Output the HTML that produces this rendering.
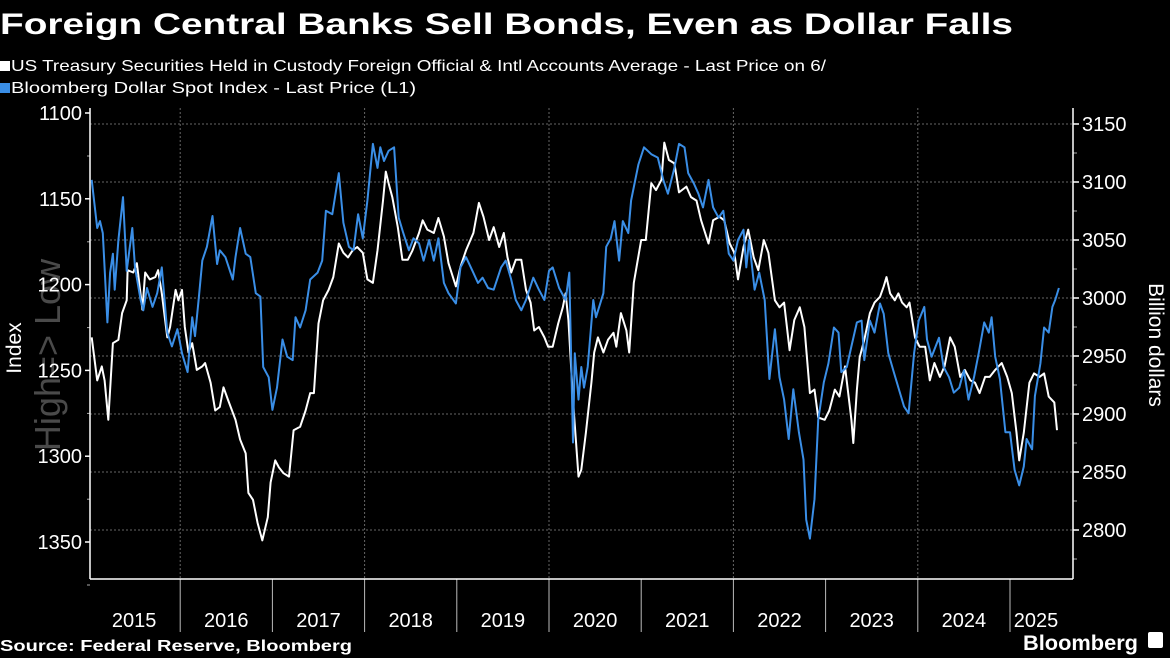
<!DOCTYPE html>
<html><head><meta charset="utf-8"><style>
html,body{margin:0;padding:0;background:#000;width:1170px;height:658px;overflow:hidden}
svg{display:block;font-family:"Liberation Sans",sans-serif}
</style></head><body>
<svg id="chart" width="1170" height="658" viewBox="0 0 1170 658">
<rect x="0" y="0" width="1170" height="658" fill="#000"/>
<text x="0" y="34" fill="#fff" font-size="30" font-weight="bold" textLength="1013" lengthAdjust="spacingAndGlyphs">Foreign Central Banks Sell Bonds, Even as Dollar Falls</text>
<g>
<g><rect x="0" y="61" width="10" height="10" fill="#fff"/><text x="11" y="71" fill="#fff" font-size="16" textLength="815" lengthAdjust="spacingAndGlyphs">US Treasury Securities Held in Custody Foreign Official &amp; Intl Accounts Average - Last Price on 6/</text></g>
<g><rect x="0" y="83" width="10" height="10" fill="#3a8ee6"/><text x="11" y="93" fill="#fff" font-size="16" textLength="405" lengthAdjust="spacingAndGlyphs">Bloomberg Dollar Spot Index - Last Price (L1)</text></g>
</g>
<text transform="translate(60,355) rotate(-90)" text-anchor="middle" fill="#4a4a4a" font-size="36">High=&gt; Low</text>
<text transform="translate(21,348) rotate(-90)" text-anchor="middle" fill="#fff" font-size="21">Index</text>
<text transform="translate(1149,345) rotate(90)" text-anchor="middle" fill="#fff" font-size="21">Billion dollars</text>
<g id="grid"></g>
<g id="axes"></g>
<g id="series"></g>
<text x="0" y="651" fill="#fff" font-size="16" font-weight="bold" textLength="352" lengthAdjust="spacingAndGlyphs">Source: Federal Reserve, Bloomberg</text>
<g>
<text x="1023" y="650" fill="#fff" font-size="21" font-weight="bold" textLength="115" lengthAdjust="spacingAndGlyphs">Bloomberg</text>
<rect x="1148" y="632" width="15" height="16" rx="2" fill="#fff"/>
</g>
</svg>
<script>
const leftTicks=[1100,1150,1200,1250,1300,1350];
const rightTicks=[3150,3100,3050,3000,2950,2900,2850,2800];
const yearLabels=["2015","2016","2017","2018","2019","2020","2021","2022","2023","2024","2025"];
const blueDates=[2015.04,2015.10,2015.13,2015.16,2015.21,2015.24,2015.27,2015.29,2015.33,2015.38,2015.42,2015.48,2015.51,2015.57,2015.60,2015.64,2015.70,2015.75,2015.80,2015.86,2015.91,2015.97,2016.02,2016.08,2016.13,2016.16,2016.20,2016.24,2016.29,2016.35,2016.40,2016.43,2016.49,2016.57,2016.60,2016.65,2016.71,2016.76,2016.82,2016.87,2016.90,2016.96,2017.00,2017.05,2017.11,2017.16,2017.22,2017.25,2017.30,2017.36,2017.41,2017.49,2017.54,2017.58,2017.65,2017.72,2017.77,2017.83,2017.88,2017.93,2017.98,2018.03,2018.09,2018.14,2018.17,2018.21,2018.26,2018.32,2018.37,2018.42,2018.48,2018.53,2018.59,2018.64,2018.70,2018.75,2018.80,2018.86,2018.91,2018.99,2019.04,2019.10,2019.17,2019.23,2019.28,2019.34,2019.40,2019.48,2019.53,2019.59,2019.64,2019.70,2019.75,2019.83,2019.89,2019.95,2020.00,2020.04,2020.11,2020.18,2020.22,2020.26,2020.28,2020.32,2020.35,2020.38,2020.42,2020.48,2020.51,2020.59,2020.62,2020.67,2020.71,2020.76,2020.80,2020.86,2020.89,2020.97,2021.03,2021.11,2021.18,2021.24,2021.29,2021.36,2021.41,2021.47,2021.51,2021.57,2021.62,2021.67,2021.73,2021.78,2021.84,2021.89,2021.95,2022.00,2022.05,2022.11,2022.14,2022.17,2022.23,2022.28,2022.34,2022.39,2022.45,2022.50,2022.55,2022.60,2022.65,2022.71,2022.76,2022.79,2022.83,2022.88,2022.92,2022.98,2023.03,2023.09,2023.14,2023.17,2023.23,2023.28,2023.34,2023.39,2023.42,2023.48,2023.53,2023.59,2023.63,2023.68,2023.74,2023.79,2023.85,2023.90,2023.96,2024.01,2024.07,2024.10,2024.15,2024.23,2024.28,2024.34,2024.39,2024.45,2024.50,2024.55,2024.61,2024.66,2024.72,2024.77,2024.80,2024.84,2024.89,2024.95,2025.00,2025.05,2025.10,2025.15,2025.18,2025.24,2025.27,2025.33,2025.37,2025.42,2025.46,2025.49,2025.53];
const blueValues=[1139,1167,1163,1170,1222,1193,1182,1203,1174,1149,1192,1167,1190,1209,1215,1202,1213,1205,1190,1228,1236,1226,1240,1251,1219,1230,1209,1186,1178,1160,1188,1180,1184,1197,1184,1167,1182,1184,1205,1207,1248,1254,1273,1260,1232,1242,1244,1219,1225,1215,1197,1193,1186,1157,1159,1135,1164,1178,1180,1159,1173,1151,1118,1132,1120,1128,1122,1120,1161,1170,1180,1173,1176,1186,1174,1186,1173,1199,1205,1211,1190,1184,1192,1199,1196,1202,1203,1190,1186,1197,1209,1215,1209,1196,1203,1209,1192,1190,1202,1209,1193,1292,1240,1267,1248,1260,1248,1209,1219,1205,1178,1173,1163,1186,1163,1170,1151,1130,1120,1124,1126,1139,1147,1132,1118,1120,1135,1141,1147,1155,1139,1155,1161,1157,1182,1186,1174,1168,1190,1174,1203,1193,1209,1255,1226,1254,1267,1290,1261,1286,1302,1337,1348,1325,1279,1257,1246,1225,1228,1251,1248,1236,1222,1221,1244,1221,1228,1211,1217,1240,1251,1260,1271,1275,1240,1221,1213,1232,1242,1231,1248,1254,1263,1260,1250,1267,1254,1240,1222,1228,1219,1242,1255,1286,1286,1308,1317,1306,1290,1296,1265,1246,1225,1228,1213,1209,1202];
const whiteDates=[2015.04,2015.10,2015.15,2015.18,2015.22,2015.27,2015.33,2015.37,2015.42,2015.43,2015.49,2015.53,2015.59,2015.62,2015.67,2015.73,2015.76,2015.80,2015.86,2015.89,2015.95,2015.98,2016.02,2016.05,2016.09,2016.13,2016.18,2016.24,2016.27,2016.33,2016.38,2016.43,2016.47,2016.52,2016.60,2016.65,2016.71,2016.74,2016.79,2016.84,2016.89,2016.95,2016.98,2017.03,2017.07,2017.12,2017.18,2017.23,2017.30,2017.36,2017.41,2017.45,2017.50,2017.55,2017.61,2017.66,2017.72,2017.77,2017.82,2017.87,2017.92,2017.98,2018.03,2018.09,2018.14,2018.20,2018.23,2018.26,2018.30,2018.36,2018.41,2018.47,2018.52,2018.59,2018.63,2018.68,2018.75,2018.80,2018.86,2018.91,2018.99,2019.04,2019.10,2019.18,2019.24,2019.29,2019.35,2019.40,2019.46,2019.51,2019.55,2019.59,2019.64,2019.70,2019.75,2019.80,2019.84,2019.89,2019.95,2019.99,2020.04,2020.10,2020.15,2020.18,2020.21,2020.26,2020.32,2020.35,2020.40,2020.46,2020.49,2020.53,2020.59,2020.64,2020.70,2020.73,2020.78,2020.84,2020.87,2020.92,2021.00,2021.05,2021.11,2021.16,2021.22,2021.25,2021.30,2021.36,2021.41,2021.49,2021.54,2021.60,2021.65,2021.73,2021.78,2021.85,2021.90,2021.96,2022.01,2022.05,2022.11,2022.16,2022.22,2022.27,2022.33,2022.38,2022.45,2022.50,2022.55,2022.61,2022.66,2022.72,2022.77,2022.83,2022.88,2022.92,2022.99,2023.04,2023.10,2023.15,2023.21,2023.28,2023.30,2023.34,2023.37,2023.42,2023.48,2023.53,2023.59,2023.63,2023.66,2023.70,2023.75,2023.79,2023.83,2023.88,2023.91,2023.97,2024.02,2024.08,2024.13,2024.18,2024.24,2024.29,2024.35,2024.40,2024.46,2024.51,2024.57,2024.62,2024.67,2024.73,2024.78,2024.84,2024.91,2024.97,2025.02,2025.07,2025.10,2025.15,2025.21,2025.26,2025.32,2025.37,2025.42,2025.48,2025.51];
const whiteValues=[2966,2929,2941,2929,2895,2961,2964,2987,2998,3024,3022,3030,2990,3022,3016,3018,3024,3004,2966,2975,3007,2998,3007,2975,2953,2961,2938,2941,2944,2927,2903,2906,2923,2912,2895,2878,2866,2832,2826,2806,2791,2811,2841,2860,2854,2849,2846,2886,2889,2903,2918,2918,2978,2998,3007,3018,3047,3039,3035,3041,3044,3039,3016,3013,3041,3084,3109,3099,3087,3061,3033,3033,3041,3056,3067,3059,3056,3069,3053,3030,3010,3027,3041,3056,3082,3070,3050,3061,3044,3056,3035,3022,3033,3033,3007,2996,2972,2975,2966,2958,2958,2978,2992,3004,2981,2912,2846,2852,2884,2927,2953,2966,2953,2964,2970,2958,2987,2972,2953,3013,3050,3050,3099,3093,3102,3134,3119,3116,3091,3096,3087,3084,3067,3047,3067,3070,3067,3047,3039,3016,3044,3059,3035,3024,3050,3039,2998,2992,2996,2955,2981,2992,2975,2918,2921,2897,2895,2903,2921,2915,2941,2895,2875,2921,2949,2964,2987,2996,3001,3010,3018,3004,2998,3004,2996,2992,2996,2966,2958,2958,2929,2944,2932,2941,2966,2958,2932,2938,2929,2927,2918,2932,2932,2938,2944,2932,2918,2884,2860,2884,2927,2935,2932,2935,2915,2910,2886];

const NS="http://www.w3.org/2000/svg";
const PL=90,PR=1073,PT=108,PB=579;
const X0=88,PXY=92.2;
function xScale(d){return X0+(d-2015)*PXY;}
function yLeft(v){return 113+(v-1100)*1.716;}
function yRight(v){return 124+(3150-v)*1.16;}
function mk(tag,attrs,parent){const e=document.createElementNS(NS,tag);for(const k in attrs)e.setAttribute(k,attrs[k]);parent.appendChild(e);return e;}
const grid=document.getElementById('grid'),axes=document.getElementById('axes'),series=document.getElementById('series');

rightTicks.forEach(v=>{
  const y=yRight(v);
  const g=mk('line',{x1:PL,x2:PR,y1:y,y2:y,stroke:'#666','stroke-width':1,'stroke-dasharray':'2,2'},grid);
  
  
  const t=mk('line',{x1:PR,x2:PR+6,y1:y,y2:y,stroke:'#fff','stroke-width':1.5},axes);
  
  
  const m=mk('line',{x1:PR,x2:PR+4,y1:y+29,y2:y+29,stroke:'#aaa','stroke-width':1},axes);
  
  
  const l=mk('text',{x:PR+9,y:y+7,fill:'#fff','font-size':20},axes);
  l.textContent=v;
  
  
});
leftTicks.forEach(v=>{
  const y=yLeft(v);
  const t=mk('line',{x1:PL-5,x2:PL,y1:y,y2:y,stroke:'#fff','stroke-width':1.5},axes);
  
  
  const m=mk('line',{x1:PL-3,x2:PL,y1:y+43,y2:y+43,stroke:'#aaa','stroke-width':1},axes);
  
  
  const l=mk('text',{x:PL-8,y:y+7,fill:'#fff','font-size':20,'text-anchor':'end'},axes);
  l.textContent=v;
  
  
});
yearLabels.forEach((lab,i)=>{
  const yr=2015+i;
  const xb=xScale(yr);
  if(i>0){
    const tk=mk('line',{x1:xb,x2:xb,y1:PB,y2:632,stroke:'#bbb','stroke-width':1},axes);
    
    
    if(yr%2===0){
      const vg=mk('line',{x1:xb,x2:xb,y1:PT,y2:PB,stroke:'#666','stroke-width':1,'stroke-dasharray':'2,2'},grid);
      
      
    }
  }
  const cx=i===10?1036:xScale(yr+0.5);
  const t=mk('text',{x:cx,y:627,fill:'#fff','font-size':20,'text-anchor':'middle'},axes);
  t.textContent=lab;
  
  
});
const la=mk('line',{x1:PL,x2:PL,y1:PT,y2:PB,stroke:'#fff','stroke-width':1.5},axes);


const ra=mk('line',{x1:PR,x2:PR,y1:PT,y2:PB,stroke:'#fff','stroke-width':1.5},axes);


const ba=mk('line',{x1:PL,x2:PR,y1:PB,y2:PB,stroke:'#fff','stroke-width':1.5},axes);



const wp=whiteDates.map((d,i)=>xScale(d).toFixed(1)+','+yRight(whiteValues[i]).toFixed(1)).join(' ');
const wl=mk('polyline',{points:wp,fill:'none',stroke:'#fff','stroke-width':2,'stroke-linejoin':'round'},series);


const bp=blueDates.map((d,i)=>xScale(d).toFixed(1)+','+yLeft(blueValues[i]).toFixed(1)).join(' ');
const bl=mk('polyline',{points:bp,fill:'none',stroke:'#3a8ee6','stroke-width':2,'stroke-linejoin':'round'},series);


</script>
</body></html>
